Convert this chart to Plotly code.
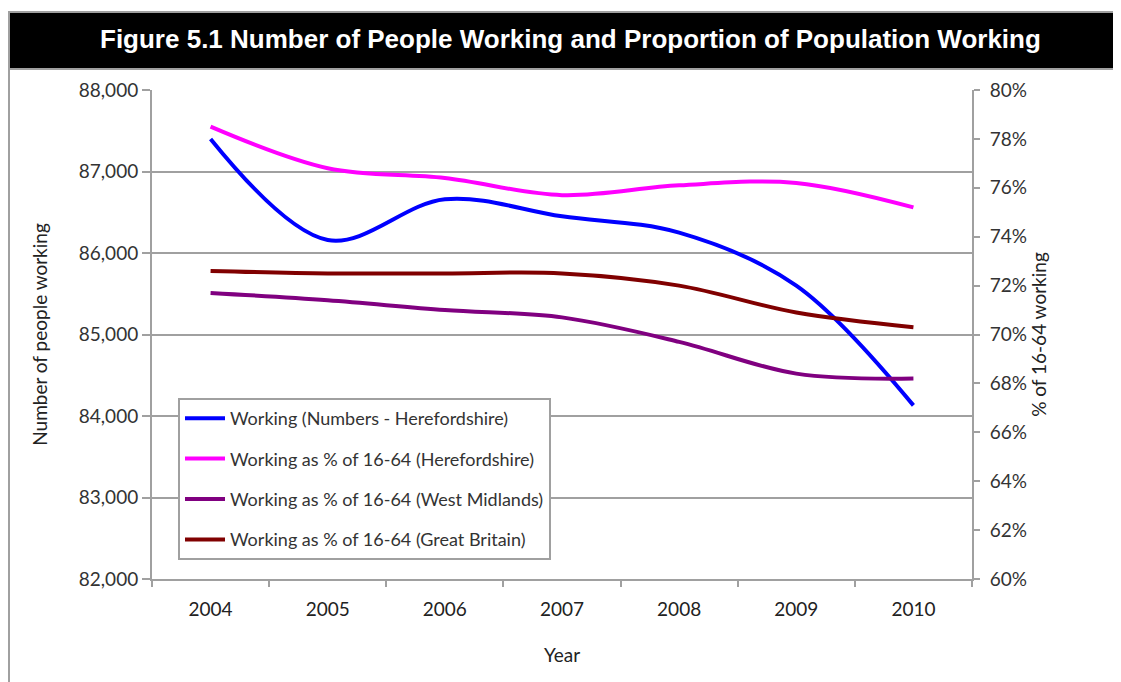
import plotly.graph_objects as go

years = ["2004", "2005", "2006", "2007", "2008", "2009", "2010"]
working_numbers = [87400, 86160, 86660, 86450, 86250, 85600, 84130]
pct_hereford = [0.785, 0.768, 0.764, 0.757, 0.761, 0.762, 0.752]
pct_west_mid = [0.717, 0.714, 0.710, 0.707, 0.697, 0.684, 0.682]
pct_gb = [0.726, 0.725, 0.725, 0.725, 0.720, 0.709, 0.703]

OFF = 8  # page body margin
W, H = 1121 - OFF, 682 - OFF
L, R, T, B = 152 - OFF, 972 - OFF, 90 - OFF, 579 - OFF
FONT = "Lato"
GRAY = "#a0a0a0"
TXT = "#333333"

def px(x):
    return (x - OFF - L) / (R - L)

def py(y):
    return (B - (y - OFF)) / (B - T)

fig = go.Figure()
fig.add_trace(go.Scatter(x=years, y=working_numbers, name="Working (Numbers - Herefordshire)",
                         mode="lines", line=dict(color="#0000ff", width=4, shape="spline"),
                         legendgroup="a"))
fig.add_trace(go.Scatter(x=years, y=pct_hereford, name="Working as % of 16-64 (Herefordshire)",
                         mode="lines", line=dict(color="#ff00ff", width=4, shape="spline"),
                         yaxis="y2", legendgroup="b"))
fig.add_trace(go.Scatter(x=years, y=pct_west_mid, name="Working as % of 16-64 (West Midlands)",
                         mode="lines", line=dict(color="#800080", width=4, shape="spline"),
                         yaxis="y2", legendgroup="c"))
fig.add_trace(go.Scatter(x=years, y=pct_gb, name="Working as % of 16-64 (Great Britain)",
                         mode="lines", line=dict(color="#800000", width=4, shape="spline"),
                         yaxis="y2", legendgroup="d"))

fig.update_layout(
    width=W, height=H,
    margin=dict(l=L, r=W - R, t=T, b=H - B),
    paper_bgcolor="white", plot_bgcolor="white",
    font=dict(family=FONT, size=18, color=TXT),
    showlegend=True,
    legend=dict(x=px(178), y=py(398), xanchor="left", yanchor="top",
                bordercolor=GRAY, borderwidth=2, bgcolor="white",
                font=dict(family=FONT, size=18, color=TXT),
                tracegroupgap=14, itemwidth=40,
                traceorder="grouped"),
    xaxis=dict(type="category", showgrid=False, showline=True, linecolor=GRAY, linewidth=2,
               ticks="outside", tickson="boundaries", ticklen=6, tickcolor=GRAY, tickwidth=2,
               ticklabelstandoff=12,
               tickfont=dict(family=FONT, size=19, color="#222222"),
               title=dict(text="Year", font=dict(family=FONT, size=19, color="#222222"), standoff=30),
               range=[-0.5, 6.5]),
    yaxis=dict(range=[82000, 88000], dtick=1000, tickformat=",", showgrid=True,
               gridcolor=GRAY, gridwidth=2, showline=True, linecolor=GRAY, linewidth=2,
               ticks="outside", ticklen=8, tickcolor=GRAY, tickwidth=2, zeroline=False,
               tickfont=dict(family=FONT, size=19, color=TXT),
               title=dict(text="Number of people working", font=dict(family=FONT, size=19, color="#222222"), standoff=26)),
    yaxis2=dict(range=[0.60, 0.80], dtick=0.02, tickformat=".0%", overlaying="y", side="right",
                showgrid=False, showline=True, linecolor=GRAY, linewidth=2,
                ticks="outside", ticklen=6, tickcolor=GRAY, tickwidth=2, zeroline=False,
                ticklabelstandoff=6,
                tickfont=dict(family=FONT, size=19, color=TXT),
                title=dict(text="% of 16-64 working", font=dict(family=FONT, size=19, color="#222222"), standoff=6)),
    shapes=[
        dict(type="line", xref="paper", yref="paper", x0=px(9), x1=px(9), y0=py(12), y1=py(690),
             line=dict(color=GRAY, width=2)),
        dict(type="rect", xref="paper", yref="paper", x0=px(9), x1=px(1130), y0=py(69), y1=py(12),
             line=dict(color=GRAY, width=2), fillcolor="black", layer="above"),
    ],
    annotations=[
        dict(text="<b>Figure 5.1 Number of People Working and Proportion of Population Working</b>",
             xref="paper", yref="paper", x=px(570), y=py(39), xanchor="center", yanchor="middle",
             showarrow=False, font=dict(family="Liberation Sans", size=26, color="white")),
    ],
)

fig.write_html("out.html")
